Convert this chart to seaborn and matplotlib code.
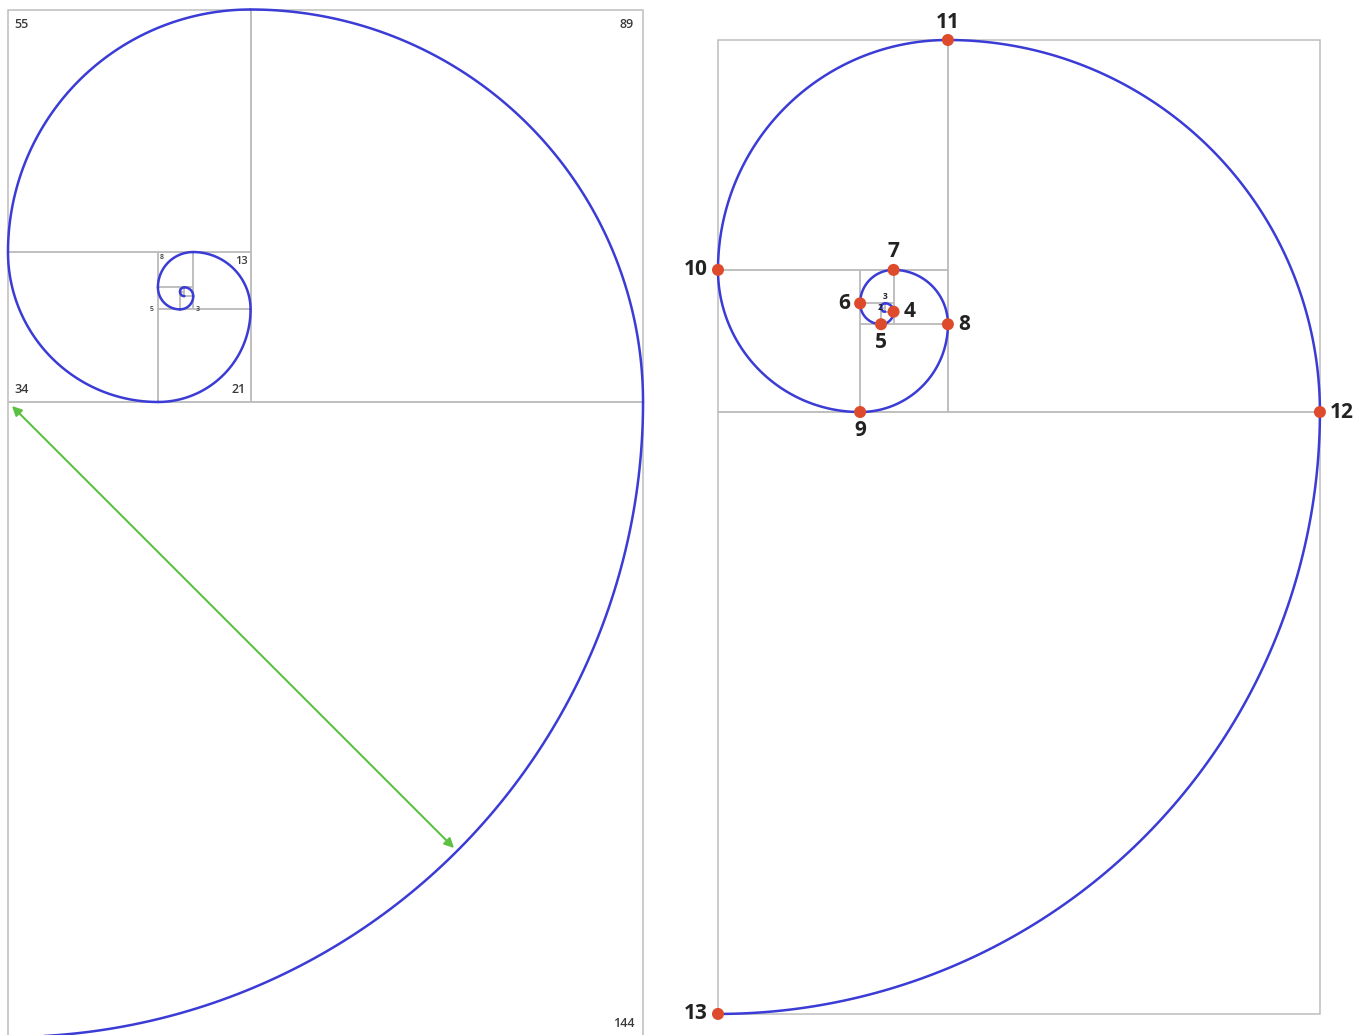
import numpy as np
import pandas as pd
import matplotlib
matplotlib.use("Agg")
import matplotlib.pyplot as plt
import seaborn as sns
from matplotlib.patches import Rectangle

# ---- data ----
fib = [1, 1, 2, 3, 5, 8, 13, 21, 34, 55, 89, 144]
square_labels = [144, 89, 55, 34, 21, 13, 8, 5, 3]          # labelled squares (left)
point_labels = [13, 12, 11, 10, 9, 8, 7, 6, 5, 4, 3, 2]      # numbered points (right)

sns.set_theme(style="white")
plt.rcParams["font.family"] = ["Open Sans", "DejaVu Sans"]

SPIRAL = "#3b3bd6"
GRID = "#bdbdbd"
DOT = "#de4a2c"
ARROW = "#5cc043"


def build(seq):
    sq = sorted(seq, reverse=True)
    x0, x1, y0, y1 = 0.0, sq[0], 0.0, sq[0] + sq[1]
    sides = ["bottom", "right", "top", "left"]
    out = []
    for i, s in enumerate(sq):
        side = sides[i % 4]
        if side == "bottom":
            rect, c, th, corner = (x0, y1 - s), (x0, y1 - s), (90, 0), (x0 + s, y1)
            y1 -= s
        elif side == "right":
            rect, c, th, corner = (x1 - s, y0), (x1 - s, y0 + s), (0, -90), (x1, y0)
            x1 -= s
        elif side == "top":
            rect, c, th, corner = (x0, y0), (x0 + s, y0 + s), (-90, -180), (x0, y0)
            y0 += s
        else:
            rect, c, th, corner = (x0, y0), (x0 + s, y0), (180, 90), (x0, y0 + s)
            x0 += s
        out.append(dict(s=s, rect=rect, c=c, th=th, corner=corner, side=side))
    return out


squares = build(fib)

W, H = 1369, 1035
fig = plt.figure(figsize=(W / 100, H / 100), dpi=100)
ax = fig.add_axes([0, 0, 1, 1])
ax.set_xlim(0, W)
ax.set_ylim(H, 0)
ax.axis("off")

panels = {"left": dict(ox=8.0, oy=9.5, k=4.41), "right": dict(ox=718.0, oy=40.0, k=4.18)}

rows = []
for pname, p in panels.items():
    ox, oy, k = p["ox"], p["oy"], p["k"]
    for j, q in enumerate(squares):
        rx, ry = q["rect"]
        ax.add_patch(Rectangle((ox + rx * k, oy + ry * k), q["s"] * k, q["s"] * k,
                               fill=False, ec=GRID, lw=1.1, zorder=1))
        t = np.radians(np.linspace(q["th"][0], q["th"][1], 120))
        cx, cy = q["c"]
        xs = ox + (cx + q["s"] * np.cos(t)) * k
        ys = oy + (cy + q["s"] * np.sin(t)) * k
        for xx, yy in zip(xs, ys):
            rows.append(dict(panel=pname, arc=j, x=xx, y=yy))

arcs = pd.DataFrame(rows)
arcs["unit"] = arcs["panel"] + arcs["arc"].astype(str)
sns.lineplot(data=arcs, x="x", y="y", units="unit", estimator=None, sort=False,
             color=SPIRAL, lw=1.8, ax=ax, zorder=3, legend=False)
ax.set_xlim(0, W)
ax.set_ylim(H, 0)
ax.set_xlabel("")
ax.set_ylabel("")

# ---- left panel labels ----
p = panels["left"]
lab_style = {144: (9, 9, 7), 89: (9, 9, 8), 55: (9, 6, 8), 34: (9, 6, 6), 21: (9, 5, 6),
             13: (8, 3, 4), 8: (5, 2, 2), 5: (5, -8, -4), 3: (5, -6, -4)}
for q in squares:
    if q["s"] not in square_labels:
        continue
    if q["s"] in (5,) and q["side"] == "left":
        pass
    fs, dx, dy = lab_style[q["s"]]
    cx, cy = q["corner"]
    X, Y = p["ox"] + cx * p["k"], p["oy"] + cy * p["k"]
    side = q["side"]
    if side == "bottom":
        X, Y, ha, va = X - dx, Y - dy, "right", "bottom"
    elif side == "right":
        X, Y, ha, va = X - dx, Y + dy, "right", "top"
    elif side == "top":
        X, Y, ha, va = X + dx, Y + dy, "left", "top"
    else:
        X, Y, ha, va = X + dx, Y - dy, "left", "bottom"
    ax.text(X, Y, str(q["s"]), fontsize=fs, color="#3a3a3a", ha=ha, va=va,
            fontweight="semibold", zorder=5)

# green radius arrow on the largest square
big = squares[0]
cx, cy = big["c"]
x_a, y_a = p["ox"] + cx * p["k"], p["oy"] + cy * p["k"]
r = big["s"] * p["k"]
x_b, y_b = x_a + r * np.cos(np.radians(45)), y_a + r * np.sin(np.radians(45))
ax.annotate("", xy=(x_b - 3, y_b - 3), xytext=(x_a + 4, y_a + 4),
            arrowprops=dict(arrowstyle="<|-|>", color=ARROW, lw=1.5,
                            mutation_scale=14, shrinkA=0, shrinkB=0), zorder=4)

# ---- right panel numbered points ----
p = panels["right"]
pts = []
for lab, q in zip(point_labels, squares):
    cx, cy = q["c"]
    th = np.radians(q["th"][0])
    X = p["ox"] + (cx + q["s"] * np.cos(th)) * p["k"]
    Y = p["oy"] + (cy + q["s"] * np.sin(th)) * p["k"]
    pts.append(dict(label=lab, x=X, y=Y, th=th, s=q["s"]))
ptdf = pd.DataFrame(pts)
dots = ptdf[ptdf["s"] >= 2]
sns.scatterplot(data=dots, x="x", y="y", color=DOT, s=75, edgecolor="none",
                ax=ax, zorder=6, legend=False)
ax.set_xlabel("")
ax.set_ylabel("")
for _, rrow in ptdf.iterrows():
    lab = int(rrow["label"])
    if rrow["s"] >= 2:
        d, fs = 18, 15
    else:
        d, fs = 7, 6
    ux, uy = np.cos(rrow["th"]), np.sin(rrow["th"])
    if lab == 13:
        ux, uy = -1.0, 0.0
    ha = "center" if abs(ux) < 0.5 else ("left" if ux > 0 else "right")
    off = d if abs(ux) < 0.5 else d - 8
    X, Y = rrow["x"] + ux * off, rrow["y"] + uy * d
    ax.text(X, Y, str(lab), fontsize=fs, fontweight="bold", color="#222222",
            ha=ha, va="center", zorder=7)

ax.set_xlim(0, W)
ax.set_ylim(H, 0)
fig.savefig("out.png", dpi=100, facecolor="white")
